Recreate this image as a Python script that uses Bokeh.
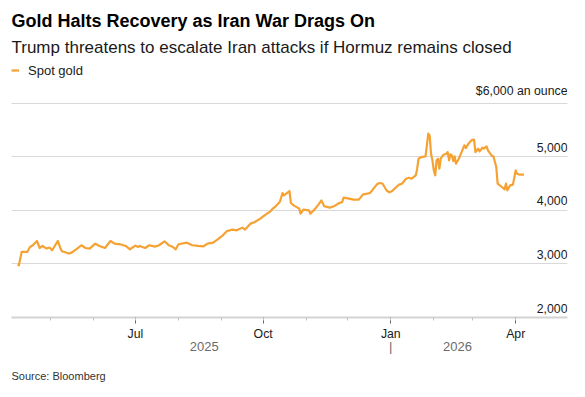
import pandas as pd
from bokeh.plotting import figure
from bokeh.models import (Range1d, FixedTicker, DatetimeAxis, DatetimeTickFormatter,
                          CustomJSTickFormatter, Grid, Title, Legend, LegendItem,
                          ColumnDataSource)
from bokeh.core.properties import value
from bokeh.embed import file_html
from bokeh.resources import INLINE

# ---------------- data ----------------
series_name = "Spot gold"
dates = [
    "2025-04-07", "2025-04-08", "2025-04-10", "2025-04-14", "2025-04-16", "2025-04-18",
    "2025-04-21", "2025-04-23", "2025-04-25", "2025-04-28", "2025-04-30", "2025-05-02",
    "2025-05-06", "2025-05-08", "2025-05-09", "2025-05-14", "2025-05-16", "2025-05-20",
    "2025-05-23", "2025-05-26", "2025-05-29", "2025-06-02", "2025-06-05", "2025-06-09",
    "2025-06-13", "2025-06-16", "2025-06-20", "2025-06-24", "2025-06-27", "2025-07-01",
    "2025-07-03", "2025-07-04", "2025-07-08", "2025-07-11", "2025-07-15", "2025-07-18",
    "2025-07-22", "2025-07-25", "2025-07-28", "2025-07-30", "2025-08-01", "2025-08-07",
    "2025-08-11", "2025-08-15", "2025-08-19", "2025-08-22", "2025-08-26", "2025-08-29",
    "2025-09-02", "2025-09-05", "2025-09-09", "2025-09-12", "2025-09-16", "2025-09-18",
    "2025-09-22", "2025-09-25", "2025-09-29", "2025-10-02", "2025-10-06", "2025-10-08",
    "2025-10-10", "2025-10-13", "2025-10-15", "2025-10-16", "2025-10-20", "2025-10-21",
    "2025-10-23", "2025-10-27", "2025-10-28", "2025-10-30", "2025-11-03", "2025-11-04",
    "2025-11-07", "2025-11-10", "2025-11-12", "2025-11-14", "2025-11-18", "2025-11-21",
    "2025-11-24", "2025-11-27", "2025-11-28", "2025-12-02", "2025-12-05", "2025-12-09",
    "2025-12-12", "2025-12-15", "2025-12-17", "2025-12-19", "2025-12-22", "2025-12-24",
    "2025-12-26", "2025-12-29", "2025-12-31", "2026-01-02", "2026-01-05", "2026-01-07",
    "2026-01-09", "2026-01-12", "2026-01-14", "2026-01-16", "2026-01-19", "2026-01-20",
    "2026-01-21", "2026-01-23", "2026-01-26", "2026-01-27", "2026-01-28", "2026-01-29",
    "2026-01-30", "2026-01-31", "2026-02-01", "2026-02-02", "2026-02-03", "2026-02-04",
    "2026-02-05", "2026-02-06", "2026-02-08", "2026-02-10", "2026-02-11", "2026-02-12",
    "2026-02-13", "2026-02-14", "2026-02-15", "2026-02-16", "2026-02-17", "2026-02-19",
    "2026-02-21", "2026-02-23", "2026-02-24", "2026-02-26", "2026-02-28", "2026-03-02",
    "2026-03-03", "2026-03-05", "2026-03-06", "2026-03-08", "2026-03-09", "2026-03-11",
    "2026-03-12", "2026-03-15", "2026-03-16", "2026-03-18", "2026-03-19", "2026-03-22",
    "2026-03-24", "2026-03-25", "2026-03-26", "2026-03-28", "2026-03-30", "2026-04-01",
    "2026-04-02", "2026-04-04", "2026-04-07",
]
prices = [
    2988, 2975, 3223, 3223, 3316, 3348,
    3428, 3297, 3335, 3286, 3305, 3254,
    3428, 3286, 3236, 3193, 3211, 3286,
    3348, 3297, 3286, 3379, 3335, 3297,
    3428, 3379, 3366, 3335, 3273, 3340,
    3316, 3335, 3297, 3348, 3323, 3348,
    3422, 3348, 3316, 3273, 3366, 3397,
    3348, 3335, 3329, 3379, 3397, 3454,
    3534, 3614, 3640, 3627, 3677, 3640,
    3752, 3782, 3845, 3907, 3975, 4032,
    4075, 4155, 4322, 4280, 4360, 4137,
    4093, 4032, 3938, 4013, 4000, 3938,
    4013, 4112, 4186, 4075, 4050, 4075,
    4125, 4155, 4237, 4218, 4199, 4199,
    4298, 4311, 4323, 4386, 4485, 4510,
    4500, 4370, 4335, 4360, 4435, 4479,
    4497, 4590, 4609, 4590, 4652, 4777,
    4963, 4994, 5006, 5212, 5430, 5398,
    5056, 4932, 4745, 4652, 4932, 4963,
    4777, 4963, 5038, 5056, 5087, 4932,
    5044, 5025, 4919, 5006, 4870, 4963,
    5087, 5212, 5162, 5243, 5305, 5318,
    5087, 5150, 5100, 5168, 5150, 5193,
    5118, 5012, 5006, 4808, 4497, 4435,
    4391, 4497, 4373, 4466, 4479, 4746,
    4684, 4665, 4665,
]
y_grid_values = [3000, 4000, 5000, 6000]
y_label_values = [2000, 3000, 4000, 5000, 6000]
y_labels = ["2,000", "3,000", "4,000", "5,000", "$6,000 an ounce"]
quarter_ticks = ["2025-07-01", "2025-10-01", "2026-01-01", "2026-04-01"]
month_ticks = ["2025-05-01", "2025-06-01", "2025-07-01", "2025-08-01", "2025-09-01",
               "2025-10-01", "2025-11-01", "2025-12-01", "2026-01-01", "2026-02-01",
               "2026-03-01", "2026-04-01"]
year_boundary = "2026-01-01"

title_text = "Gold Halts Recovery as Iran War Drags On"
subtitle_text = "Trump threatens to escalate Iran attacks if Hormuz remains closed"
source_text = "Source: Bloomberg"

# ---------------- helpers ----------------
def ms(s):
    return pd.Timestamp(s).value / 1e6

FONT = "Liberation Sans"
ORANGE = "#f5a233"

x_start = pd.Timestamp("2025-04-02 16:00")
x_end = pd.Timestamp("2026-05-08 08:00")

p = figure(width=585, height=397, x_axis_type="datetime", y_axis_location=None,
           x_range=Range1d(x_start, x_end), y_range=Range1d(2000, 6777),
           output_backend="svg", toolbar_location=None, title=None,
           min_border_left=11, min_border_right=18, min_border_top=61, min_border_bottom=80)
p.outline_line_color = None
p.xgrid.visible = False
p.background_fill_color = "white"

p.add_layout(Grid(dimension=1, ticker=FixedTicker(ticks=y_grid_values),
                  grid_line_color="#d9d9d9", grid_line_width=1))

src = ColumnDataSource(dict(x=pd.to_datetime(dates), y=prices))
line_r = p.line("x", "y", source=src, line_color=ORANGE, line_width=2.2, line_join="round")

lab_src = ColumnDataSource(dict(x=[x_end] * len(y_label_values), y=y_label_values, t=y_labels))
p.text("x", "y", text="t", source=lab_src, text_align="right", text_baseline="bottom",
       y_offset=-5, text_font=value(FONT), text_font_size="12.3px", text_color="#1a1a1a")

# month axis
xa = p.xaxis[0]
xa.ticker = FixedTicker(ticks=[ms(t) for t in quarter_ticks],
                        minor_ticks=[ms(t) for t in month_ticks])
xa.formatter = DatetimeTickFormatter(days="%b", months="%b", years="%b")
xa.axis_line_color = "#d3d3d3"
xa.axis_line_width = 2
xa.major_tick_in = 0
xa.major_tick_out = 6
xa.minor_tick_in = 0
xa.minor_tick_out = 3
xa.major_tick_line_color = "#666666"
xa.minor_tick_line_color = "#c4c4c4"
xa.major_label_standoff = 3
xa.major_label_text_font = FONT
xa.major_label_text_font_size = "12.3px"
xa.major_label_text_color = "#1a1a1a"

# year axis
d0 = pd.Timestamp(dates[0]); d1 = pd.Timestamp(dates[-1]); yb = pd.Timestamp(year_boundary)
mid_a = d0 + (yb - d0) / 2
mid_b = yb + (d1 - yb) / 2
ya = DatetimeAxis(ticker=FixedTicker(ticks=[ms(mid_a), ms(yb), ms(mid_b)]),
                  formatter=CustomJSTickFormatter(code="""
                      const d = new Date(tick);
                      if (d.getUTCMonth() === 0 && d.getUTCDate() === 1) { return "|"; }
                      return String(d.getUTCFullYear());
                  """))
ya.axis_line_color = None
ya.major_tick_line_color = None
ya.minor_tick_line_color = None
ya.major_label_standoff = -11
ya.major_label_text_font = FONT
ya.major_label_text_font_size = "13px"
ya.major_label_text_color = "#6b6b6b"
p.add_layout(ya, "below")

p.add_layout(Title(text=source_text, align="left", text_font=FONT, text_font_size="11px",
                   text_font_style="normal", text_color="#333333", standoff=22), "below")

legend = Legend(items=[LegendItem(label=series_name, renderers=[line_r])],
                orientation="horizontal", location="top_left", margin=0, padding=0,
                spacing=0, glyph_width=8, glyph_height=18, label_standoff=9,
                label_text_font=FONT, label_text_font_size="13px", label_text_color="#1a1a1a",
                border_line_color=None, background_fill_alpha=0)
p.add_layout(legend, "center")
p.add_layout(Title(text=subtitle_text, align="left", text_font=FONT, text_font_size="17px",
                   text_font_style="normal", text_color="#1a1a1a", standoff=9), "above")
p.add_layout(Title(text=title_text, align="left", text_font=FONT, text_font_size="18px",
                   text_font_style="bold", text_color="#000000", standoff=2), "above")

open("out.html", "w").write(file_html(p, INLINE))
